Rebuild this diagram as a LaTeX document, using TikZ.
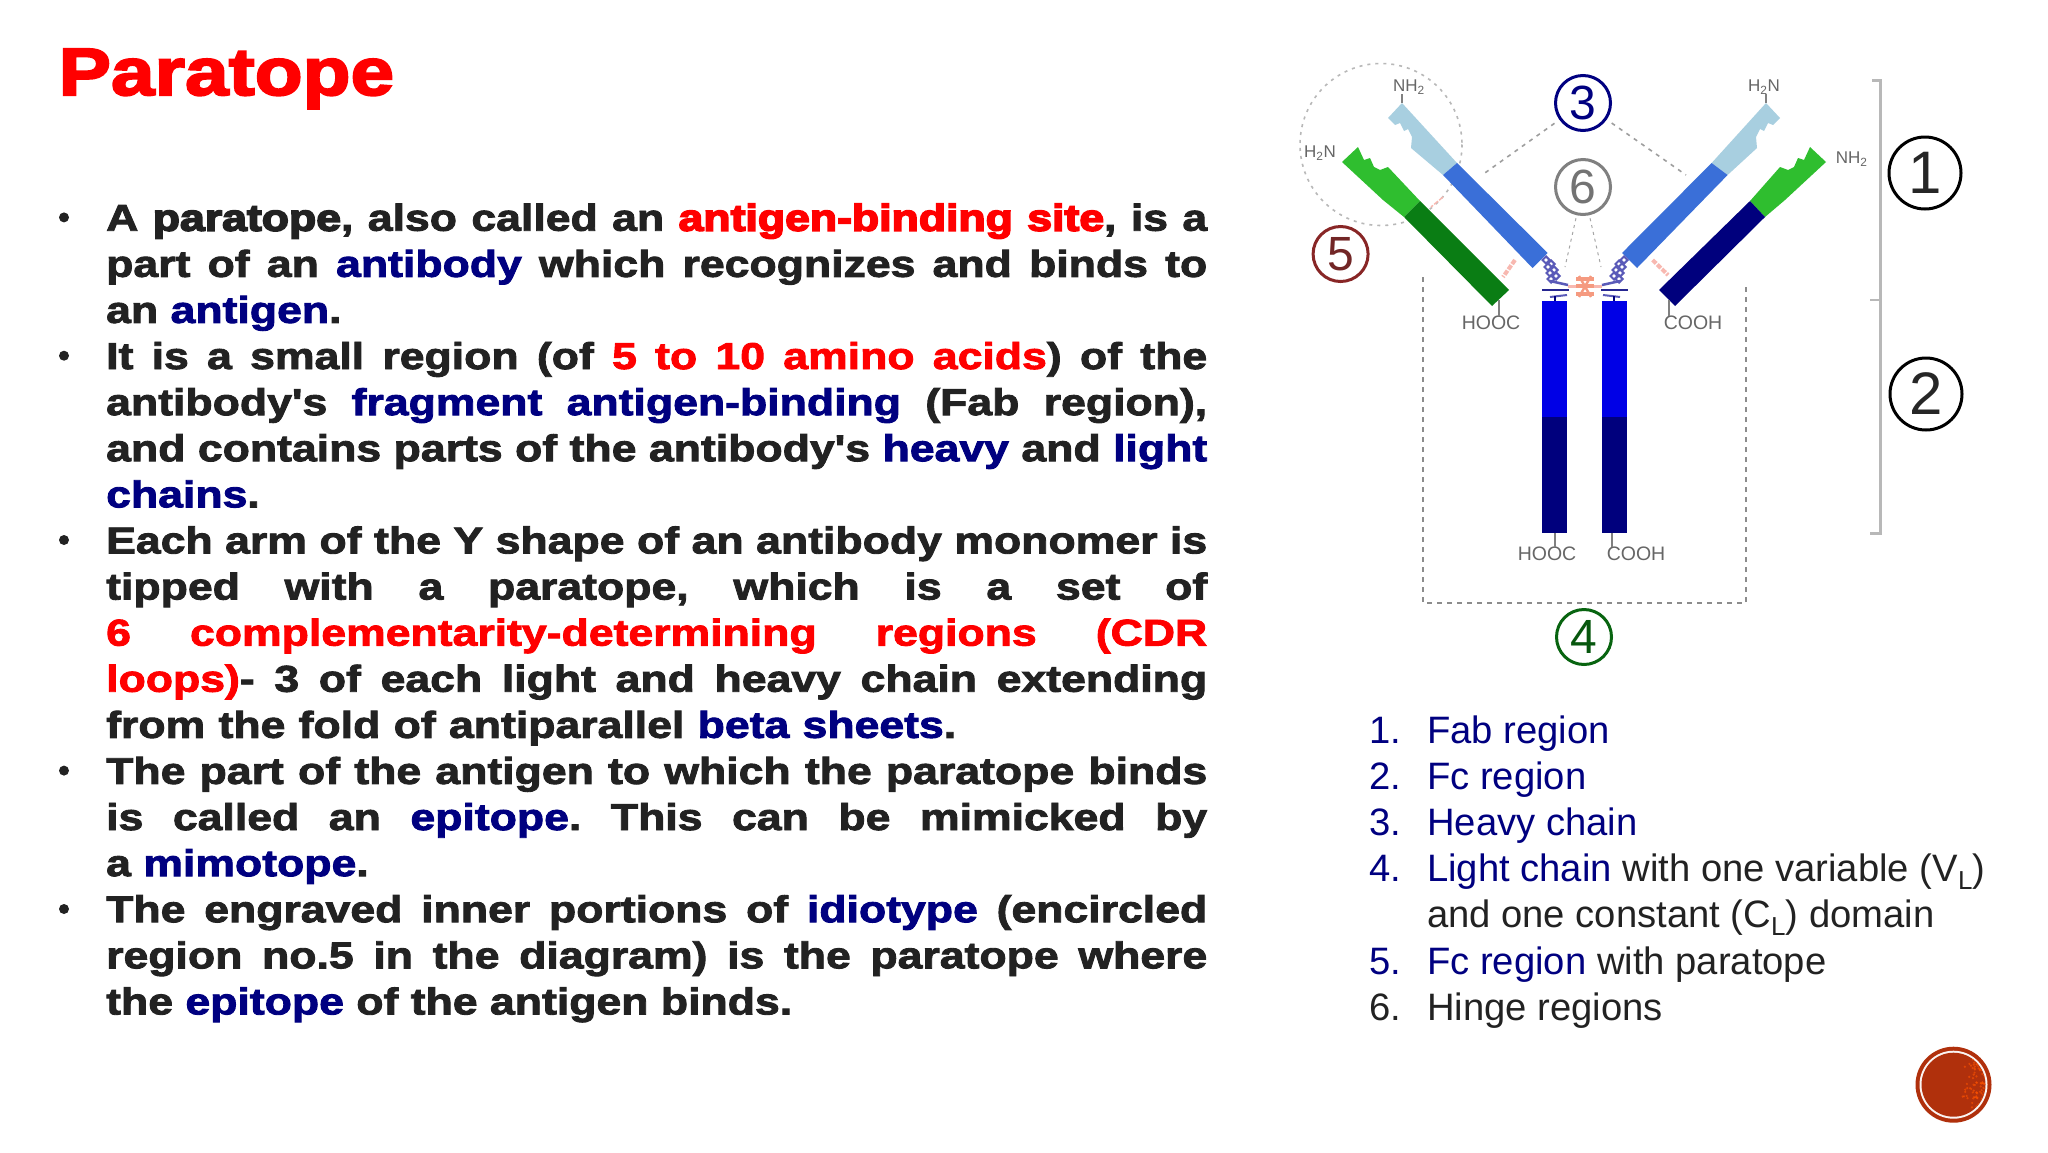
\documentclass[tikz,border=0pt]{standalone}
\usepackage{fontspec}
\setmainfont{Liberation Sans}
\newfontfamily\bodyfont[FakeBold=2.4,FakeStretch=1.195]{Liberation Sans Bold}
\newfontfamily\heavyfont[FakeBold=4.5,FakeStretch=1.195]{Liberation Sans Bold}
\newfontfamily\titlefont[FakeBold=3,FakeStretch=1.17]{Liberation Sans Bold}
\definecolor{navy}{HTML}{000080}
\definecolor{inktext}{HTML}{222222}
\definecolor{redtext}{HTML}{FF0000}
\definecolor{palebluearm}{HTML}{A8CFE0}
\definecolor{midbluearm}{HTML}{3A6FD8}
\definecolor{lightgreenarm}{HTML}{2FBE2F}
\definecolor{darkgreenarm}{HTML}{0A7D14}
\definecolor{stemblue}{HTML}{0000E6}
\definecolor{stemnavy}{HTML}{00007D}
\definecolor{linkpink}{HTML}{F8B8B0}
\definecolor{hingepink}{HTML}{F59A80}
\definecolor{badgered}{HTML}{B0300C}
\definecolor{knotblue}{HTML}{5A5AB8}
\newcommand{\rd}[1]{\textcolor{redtext}{#1}}
\newcommand{\nv}[1]{\textcolor{navy}{#1}}
\newcommand{\bodyline}[3]{\node[bodytext] (#1) at (106,#2) {\hbox to 1101bp{#3}};}
\newcommand{\lastline}[3]{\node[bodytext] (#1) at (106,#2) {#3};}
\newcommand{\low}[1]{\raisebox{-0.22em}{\fontsize{26bp}{26bp}\selectfont #1}}
\frenchspacing
\usetikzlibrary{shapes.geometric}
\tikzset{
  bodytext/.style={anchor=base west,inner sep=0pt,text=inktext,font=\bodyfont\fontsize{37.3bp}{44bp}\selectfont},
  listtext/.style={anchor=base west,inner sep=0pt,text=inktext,font=\fontsize{38.2bp}{44bp}\selectfont},
  bulletdot/.style={circle,fill=inktext,inner sep=0pt,minimum size=10bp},
  ringbig/.style={circle,draw=black,line width=3bp,inner sep=0pt,minimum size=72bp,font=\fontsize{60bp}{60bp}\selectfont,text=black!85},
  ringsmall/.style={circle,line width=3bp,fill=white,inner sep=0pt,minimum size=55bp,font=\fontsize{48bp}{48bp}\selectfont},
  chemlabel/.style={inner sep=0pt,text=black!60,font=\fontsize{17bp}{17bp}\selectfont},
  chemwide/.style={inner sep=0pt,text=black!60,font=\fontsize{19.5bp}{19.5bp}\selectfont},
  dotline/.style={draw=black!38,line width=1.6bp,dash pattern=on 4bp off 5bp},
  paleloop/.style={draw=black!28,line width=1.6bp,dash pattern=on 3bp off 5bp},
  fineline/.style={draw=black!35,line width=1bp,dash pattern=on 3bp off 4bp},
  boxline/.style={draw=black!45,line width=1.8bp,dash pattern=on 5bp off 5bp},
  bracketline/.style={draw=black!28,line width=3bp},
  chemtick/.style={draw=black!50,line width=1.2bp},
  linkline/.style={draw=linkpink,line width=4bp,dash pattern=on 5bp off 1.5bp},
  knot/.style={draw=knotblue,fill=white,line width=2bp,minimum size=8bp,diamond,aspect=1,inner sep=0pt}
}
\begin{document}
\begin{tikzpicture}[x=1bp,y=-1bp]
\useasboundingbox (0,0) rectangle (2048,1152);
\fill[white] (0,0) rectangle (2048,1152);

% Title
\node[anchor=base west,inner sep=0pt,text=redtext,font=\titlefont\fontsize{67bp}{70bp}\selectfont] (title) at (58.5,95) {Paratope};

% Bullets
\node[bulletdot] (b1) at (64,217.4) {};
\node[bulletdot] (b2) at (64,355.7) {};
\node[bulletdot] (b3) at (64,540) {};
\node[bulletdot] (b4) at (64,770.6) {};
\node[bulletdot] (b5) at (64,909) {};

% Body
\bodyline{l1}{230.7}{A {\heavyfont paratope}, also called an \rd{\heavyfont antigen-binding site}, is a}
\bodyline{l2}{276.8}{part of an \nv{antibody} which recognizes and binds to}
\lastline{l3}{322.9}{an \nv{antigen}.}
\bodyline{l4}{369}{It is a small region (of \rd{5 to 10 amino acids}) of the}
\bodyline{l5}{415.1}{antibody's \nv{fragment antigen-binding} (Fab region),}
\bodyline{l6}{461.2}{and contains parts of the antibody's \nv{heavy} and \nv{light}}
\lastline{l7}{507.3}{\nv{chains}.}
\bodyline{l8}{553.4}{Each arm of the Y shape of an antibody monomer is}
\bodyline{l9}{599.5}{tipped with a paratope, which is a set of}
\bodyline{l10}{645.6}{\rd{6 complementarity-determining regions (CDR}}
\bodyline{l11}{691.7}{\rd{loops)}- 3 of each light and heavy chain extending}
\lastline{l12}{737.8}{\hbox to 850bp{from the fold of antiparallel \nv{beta sheets}.}}
\bodyline{l13}{783.9}{The part of the antigen to which the paratope binds}
\bodyline{l14}{830}{is called an \nv{epitope}. This can be mimicked by}
\lastline{l15}{876.1}{a \nv{mimotope}.}
\bodyline{l16}{922.2}{The engraved inner portions of \nv{idiotype} (encircled}
\bodyline{l17}{968.3}{region no.5 in the diagram) is the paratope where}
\lastline{l18}{1014.4}{the \nv{epitope} of the antigen binds.}

% List
\node[listtext,text=navy] (n1) at (1369,743) {1.};
\node[listtext,text=navy] (t1) at (1427,743) {Fab region};
\node[listtext,text=navy] (n2) at (1369,789) {2.};
\node[listtext,text=navy] (t2) at (1427,789) {Fc region};
\node[listtext,text=navy] (n3) at (1369,835) {3.};
\node[listtext,text=navy] (t3) at (1427,835) {Heavy chain};
\node[listtext,text=navy] (n4) at (1369,881.5) {4.};
\node[listtext] (t4) at (1427,881.5) {\textcolor{navy}{Light chain} with one variable (V\low{L})};
\node[listtext] (t4b) at (1427,927.5) {and one constant (C\low{L}) domain};
\node[listtext,text=navy] (n5) at (1369,974) {5.};
\node[listtext] (t5) at (1427,974) {\textcolor{navy}{Fc region} with paratope};
\node[listtext] (n6) at (1369,1020) {6.};
\node[listtext] (t6) at (1427,1020) {Hinge regions};

% Badge
\fill[badgered] (1953.5,1084.7) circle (38);
\fill[white,opacity=.95] (1953.5,1084.7) circle (34);
\fill[badgered] (1953.5,1084.7) circle (32);
\begin{scope}
\clip (1953.5,1084.7) circle (32);
\pgfmathsetseed{11}
\foreach \di in {1,...,130}{
  \pgfmathsetmacro{\px}{1962+26*sqrt(rnd)}
  \pgfmathsetmacro{\py}{1084.7+(\px-1950)*1.25*(2*rnd-1)}
  \fill[orange!65!red,opacity=.6] (\px,\py) circle (1.2);
}
\end{scope}

% Dashed enclosures
\draw[paleloop] (1381,144.5) circle (81);
\draw[boxline] (1423,277) -- (1423,603) -- (1746,603) -- (1746,283);

% Arms: left heavy
\fill[palebluearm] (1402,103) -- (1388,118) -- (1395,125) -- (1400,123) -- (1404,131) -- (1408,129) -- (1412,137) -- (1411,148) -- (1443,175) -- (1457,163) -- cycle;
\fill[midbluearm] (1457,163) -- (1443,175) -- (1532.5,268) -- (1547.7,253) -- cycle;
% left light
\fill[lightgreenarm] (1358,147) -- (1342,162) -- (1383,200) -- (1404,217) -- (1420,201) -- (1388,167) -- (1380,170) -- (1374,167) -- (1370,158) -- (1364,160) -- cycle;
\fill[darkgreenarm] (1420,201) -- (1404,217) -- (1492,306) -- (1509,290) -- cycle;
% right heavy
\fill[palebluearm] (1766,103) -- (1780,118) -- (1773,125) -- (1768,123) -- (1764,131) -- (1760,129) -- (1756,137) -- (1757,148) -- (1727.6,175) -- (1711.6,163) -- cycle;
\fill[midbluearm] (1711.6,163) -- (1727.6,175) -- (1637,268) -- (1622,253) -- cycle;
% right light
\fill[lightgreenarm] (1810,147) -- (1826,162) -- (1785,200) -- (1765,217) -- (1750,201) -- (1780,167) -- (1788,170) -- (1794,167) -- (1798,158) -- (1804,160) -- cycle;
\fill[stemnavy] (1750,201) -- (1765,217) -- (1675,306) -- (1659,290) -- cycle;
% Stems
\fill[stemblue] (1542.4,301) rectangle (1567,417);
\fill[stemnavy] (1542.4,417) rectangle (1567,533);
\fill[stemblue] (1601.7,301) rectangle (1626.5,417);
\fill[stemnavy] (1601.7,417) rectangle (1626.5,533);

% Inter-chain links
\draw[linkline] (1515,260) -- (1503,277);
\draw[linkline] (1652.6,260) -- (1668,275);

% Hinges
\draw[linkpink,line width=3bp] (1568,286) -- (1602,286);
\foreach \kx/\ky [count=\ki] in {1546/260,1551/264,1548/267,1554/270,1550/273,1556/276,1551/279}{
  \node[knot] (kl\ki) at (\kx,\ky) {};
}
\foreach \kx/\ky [count=\ki] in {1624/260,1619/264,1622/267,1616/270,1620/273,1614/276,1619/279}{
  \node[knot] (kr\ki) at (\kx,\ky) {};
}
\draw[knotblue,line width=2.5bp] (1550,281) -- (1568,285);
\draw[knotblue,line width=2.5bp] (1620,281) -- (1602,285);
\draw[stemnavy!85,line width=2.5bp] (1542,290) -- (1569,290);
\draw[stemnavy!85,line width=2.5bp] (1601,290) -- (1628,290);
\draw[knotblue,line width=2bp] (1550,297) -- (1567,295);
\draw[knotblue,line width=2bp] (1620,297) -- (1603,295);
\draw[stemnavy,line width=1.5bp] (1555,296) -- (1555,301);
\draw[stemnavy,line width=1.5bp] (1614,296) -- (1614,301);
\fill[hingepink] (1576,277) rectangle (1594,281);
\fill[hingepink] (1576,284) rectangle (1594,288);
\fill[hingepink] (1576,292) rectangle (1594,296);
\draw[hingepink,line width=2.4bp] (1579,276) -- (1591,297) (1591,276) -- (1579,297);

% Bracket
\draw[bracketline] (1872,80) -- (1880,80) -- (1880,533) -- (1870,533);
\draw[bracketline,line width=2bp] (1870,300) -- (1880,300);

% Circled numbers
\node[ringbig] (c1) at (1925,173) {1};
\node[ringbig] (c2) at (1926,394) {2};
\node[ringsmall,draw=navy,text=navy] (c3) at (1583,103) {3};
\node[ringsmall,draw=darkgreenarm!80!black,text=darkgreenarm!70!black] (c4) at (1584,637) {4};
\node[ringsmall,draw=red!45!black!85,text=red!35!black!85,fill=none] (c5) at (1340.6,254) {5};
\node[ringsmall,draw=black!50,text=black!55] (c6) at (1583,187) {6};

% Leader lines
\coordinate (heavyleft) at (1482,175);
\coordinate (heavyright) at (1686,175);
\coordinate (hingeleft) at (1565,267);
\coordinate (hingeright) at (1601,267);
\draw[dotline,shorten <=6bp] (c3) -- (heavyleft);
\draw[dotline,shorten <=6bp] (c3) -- (heavyright);
\draw[fineline,shorten <=3bp] (c6) -- (hingeleft);
\draw[fineline,shorten <=3bp] (c6) -- (hingeright);
\draw[linkline,line width=1.5bp] (1443,197) -- (1431,207);

% Chemical end labels
\node[chemlabel] (nh2l) at (1409,87) {NH\textsubscript{2}};
\node[chemlabel] (h2nl) at (1320,153) {H\textsubscript{2}N};
\node[chemlabel] (h2nr) at (1764,87) {H\textsubscript{2}N};
\node[chemlabel] (nh2r) at (1851.6,159) {NH\textsubscript{2}};
\node[chemwide] (hoocl) at (1491,323) {HOOC};
\node[chemwide] (coohr) at (1693,323) {COOH};
\node[chemwide] (hoocc) at (1547,554) {HOOC};
\node[chemwide] (coohc) at (1636,554) {COOH};
\coordinate (tipa) at (1402,103);
\coordinate (tipb) at (1766,103);
\coordinate (tipc) at (1499,300);
\coordinate (tipd) at (1669,300);
\coordinate (tipe) at (1555,533);
\coordinate (tipf) at (1612,533);
\draw[chemtick] (nh2l.south -| tipa) -- (tipa);
\draw[chemtick] (h2nr.south -| tipb) -- (tipb);
\draw[chemtick] (hoocl.north -| tipc) -- (tipc);
\draw[chemtick] (coohr.north -| tipd) -- (tipd);
\draw[chemtick] (hoocc.north -| tipe) -- (tipe);
\draw[chemtick] (coohc.north -| tipf) -- (tipf);
\end{tikzpicture}
\end{document}
